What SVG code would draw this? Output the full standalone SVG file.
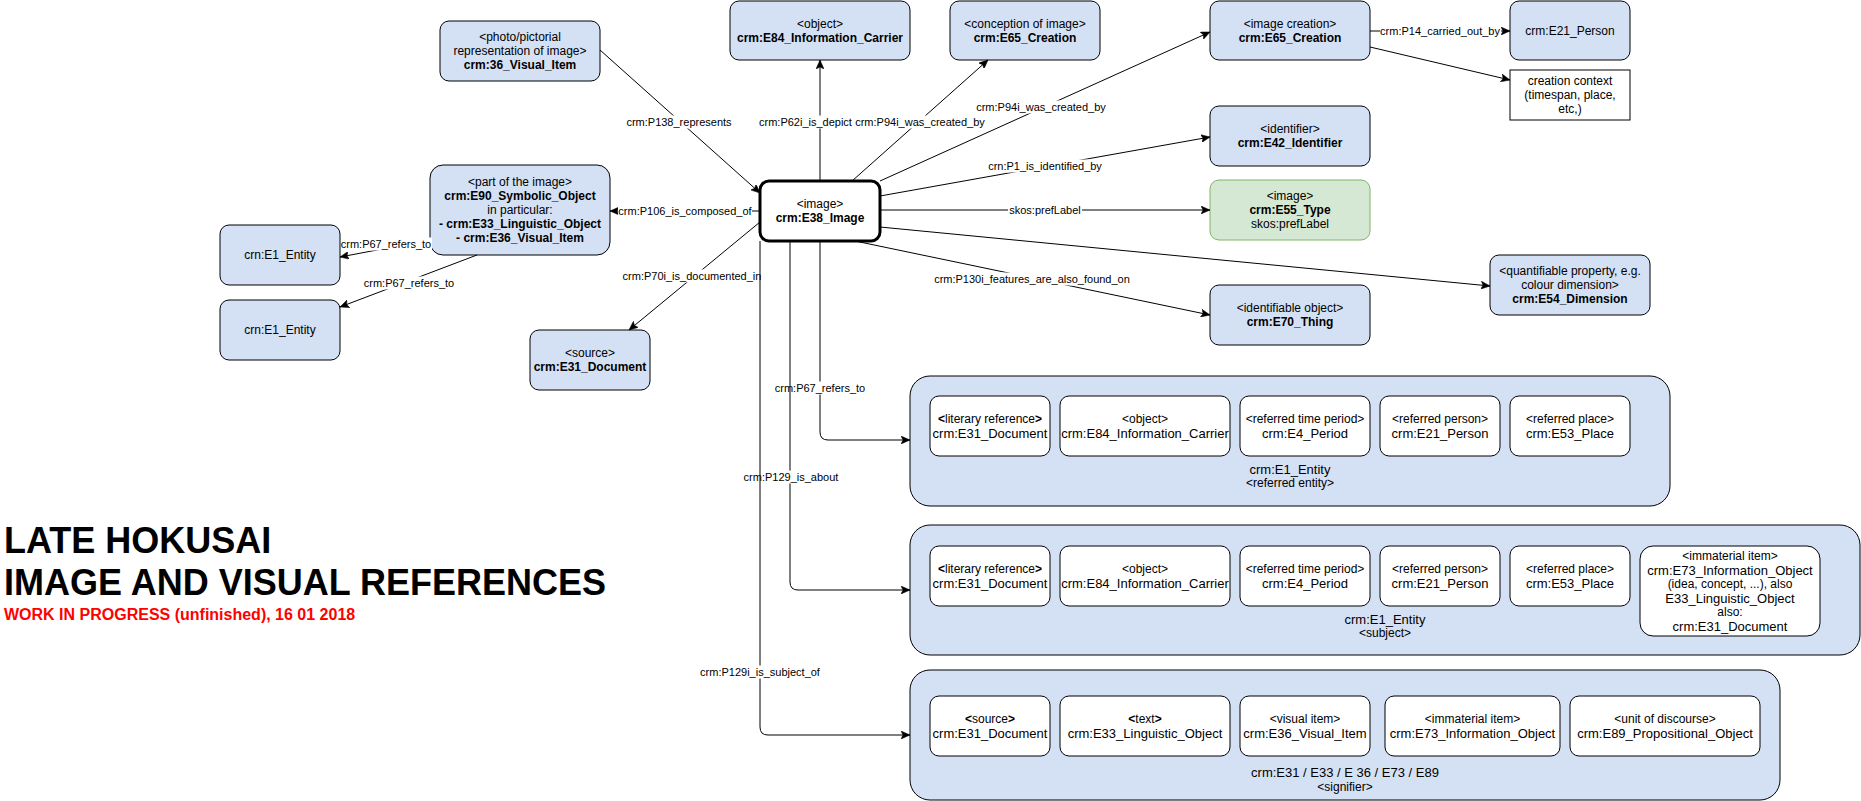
<svg xmlns="http://www.w3.org/2000/svg" width="1861" height="801" viewBox="0 0 1861 801">
<style>
text{font-family:"Liberation Sans",Arial,Helvetica,sans-serif;fill:#000;text-anchor:middle;font-size:12px}
.n{fill:#D4E1F5;stroke:#000;stroke-width:1}
.w{fill:#fff;stroke:#000;stroke-width:1}
.g{fill:#D5E8D4;stroke:#82B366;stroke-width:1}
.b{font-weight:bold}
.m{font-size:13px}
.el{font-size:11px}
.e{fill:none;stroke:#000;stroke-width:1;marker-end:url(#arr)}
.lb{fill:#fff}
.title{text-anchor:start;font-weight:bold;font-size:36px}
</style>
<defs>
<marker id="arr" markerUnits="userSpaceOnUse" markerWidth="10" markerHeight="8" refX="9" refY="4" orient="auto">
<path d="M0,0 L9,4 L0,8 L2,4 Z" fill="#000" stroke="#000" stroke-width="0.5"/>
</marker>
</defs>
<rect width="1861" height="801" fill="#fff"/>

<g id="title">
<text class="title" x="4" y="553">LATE HOKUSAI</text>
<text class="title" x="4" y="595">IMAGE AND VISUAL REFERENCES</text>
<text x="4" y="620" style="text-anchor:start;font-weight:bold;font-size:16px;fill:#FF0000">WORK IN PROGRESS (unfinished), 16 01 2018</text>
</g>

<g id="container-referred-entity">
<rect class="n" x="910" y="376" width="760" height="130" rx="20"/>
<text class="m" x="1290" y="473.5">crm:E1_Entity</text>
<text x="1290" y="487">&lt;referred entity&gt;</text>
<g id="c1-a"><rect class="w" x="930" y="396" width="120" height="60" rx="9"/><text x="990" y="423"><tspan class="b">&lt;</tspan>literary reference<tspan class="b">&gt;</tspan></text><text class="m" x="990" y="437.5">crm:E31_Document</text></g>
<g id="c1-b"><rect class="w" x="1060" y="396" width="170" height="60" rx="9"/><text x="1145" y="423">&lt;object&gt;</text><text class="m" x="1145" y="437.5">crm:E84_Information_Carrier</text></g>
<g id="c1-c"><rect class="w" x="1240" y="396" width="130" height="60" rx="9"/><text x="1305" y="423">&lt;referred time period&gt;</text><text class="m" x="1305" y="437.5">crm:E4_Period</text></g>
<g id="c1-d"><rect class="w" x="1380" y="396" width="120" height="60" rx="9"/><text x="1440" y="423">&lt;referred person&gt;</text><text class="m" x="1440" y="437.5">crm:E21_Person</text></g>
<g id="c1-e"><rect class="w" x="1510" y="396" width="120" height="60" rx="9"/><text x="1570" y="423">&lt;referred place&gt;</text><text class="m" x="1570" y="437.5">crm:E53_Place</text></g>
</g>

<g id="container-subject">
<rect class="n" x="910" y="525" width="950" height="130" rx="20"/>
<text class="m" x="1385" y="623.5">crm:E1_Entity</text>
<text x="1385" y="637">&lt;subject&gt;</text>
<g id="c2-a"><rect class="w" x="930" y="546" width="120" height="60" rx="9"/><text x="990" y="573"><tspan class="b">&lt;</tspan>literary reference<tspan class="b">&gt;</tspan></text><text class="m" x="990" y="587.5">crm:E31_Document</text></g>
<g id="c2-b"><rect class="w" x="1060" y="546" width="170" height="60" rx="9"/><text x="1145" y="573">&lt;object&gt;</text><text class="m" x="1145" y="587.5">crm:E84_Information_Carrier</text></g>
<g id="c2-c"><rect class="w" x="1240" y="546" width="130" height="60" rx="9"/><text x="1305" y="573">&lt;referred time period&gt;</text><text class="m" x="1305" y="587.5">crm:E4_Period</text></g>
<g id="c2-d"><rect class="w" x="1380" y="546" width="120" height="60" rx="9"/><text x="1440" y="573">&lt;referred person&gt;</text><text class="m" x="1440" y="587.5">crm:E21_Person</text></g>
<g id="c2-e"><rect class="w" x="1510" y="546" width="120" height="60" rx="9"/><text x="1570" y="573">&lt;referred place&gt;</text><text class="m" x="1570" y="587.5">crm:E53_Place</text></g>
<g id="c2-f"><rect class="w" x="1640" y="546" width="180" height="90" rx="13"/>
<text x="1730" y="560">&lt;immaterial item&gt;</text>
<text class="m" x="1730" y="574.5">crm:E73_Information_Object</text>
<text x="1730" y="588">(idea, concept, ...), also</text>
<text class="m" x="1730" y="602.5">E33_Linguistic_Object</text>
<text x="1730" y="616">also:</text>
<text class="m" x="1730" y="630.5">crm:E31_Document</text></g>
</g>

<g id="container-signifier">
<rect class="n" x="910" y="670" width="870" height="130" rx="20"/>
<text class="m" x="1345" y="776.5">crm:E31 / E33 / E 36 / E73 / E89</text>
<text x="1345" y="791">&lt;signifier&gt;</text>
<g id="c3-a"><rect class="w" x="930" y="696" width="120" height="60" rx="9"/><text x="990" y="723"><tspan class="b">&lt;</tspan>source<tspan class="b">&gt;</tspan></text><text class="m" x="990" y="737.5">crm:E31_Document</text></g>
<g id="c3-b"><rect class="w" x="1060" y="696" width="170" height="60" rx="9"/><text x="1145" y="723"><tspan class="b">&lt;</tspan>text<tspan class="b">&gt;</tspan></text><text class="m" x="1145" y="737.5">crm:E33_Linguistic_Object</text></g>
<g id="c3-c"><rect class="w" x="1240" y="696" width="130" height="60" rx="9"/><text x="1305" y="723">&lt;visual item&gt;</text><text class="m" x="1305" y="737.5">crm:E36_Visual_Item</text></g>
<g id="c3-d"><rect class="w" x="1385" y="696" width="175" height="60" rx="9"/><text x="1472.5" y="723">&lt;immaterial item&gt;</text><text class="m" x="1472.5" y="737.5">crm:E73_Information_Object</text></g>
<g id="c3-e"><rect class="w" x="1570" y="696" width="190" height="60" rx="9"/><text x="1665" y="723">&lt;unit of discourse&gt;</text><text class="m" x="1665" y="737.5">crm:E89_Propositional_Object</text></g>
</g>

<g id="node-photo"><rect class="n" x="440" y="21" width="160" height="60" rx="9"/>
<text x="520" y="41">&lt;photo/pictorial</text><text x="520" y="55">representation of image&gt;</text><text class="b" x="520" y="69">crm:36_Visual_Item</text></g>
<g id="node-e84"><rect class="n" x="730" y="1" width="180" height="59" rx="9"/>
<text x="820" y="27.5">&lt;object&gt;</text><text class="b" x="820" y="41.5">crm:E84_Information_Carrier</text></g>
<g id="node-conception"><rect class="n" x="950" y="1" width="150" height="59" rx="9"/>
<text x="1025" y="27.5">&lt;conception of image&gt;</text><text class="b" x="1025" y="41.5">crm:E65_Creation</text></g>
<g id="node-creation"><rect class="n" x="1210" y="1" width="160" height="59" rx="9"/>
<text x="1290" y="27.5">&lt;image creation&gt;</text><text class="b" x="1290" y="41.5">crm:E65_Creation</text></g>
<g id="node-e21"><rect class="n" x="1510" y="1" width="120" height="59" rx="9"/>
<text x="1570" y="34.5">crm:E21_Person</text></g>
<g id="node-context"><rect class="w" x="1510" y="70" width="120" height="50"/>
<text x="1570" y="85">creation context</text><text x="1570" y="99">(timespan, place,</text><text x="1570" y="113">etc,)</text></g>
<g id="node-e42"><rect class="n" x="1210" y="106" width="160" height="60" rx="9"/>
<text x="1290" y="133">&lt;identifier&gt;</text><text class="b" x="1290" y="147">crm:E42_Identifier</text></g>
<g id="node-e55"><rect class="g" x="1210" y="180" width="160" height="60" rx="9"/>
<text x="1290" y="200">&lt;image&gt;</text><text class="b" x="1290" y="214">crm:E55_Type</text><text x="1290" y="228">skos:prefLabel</text></g>
<g id="node-e54"><rect class="n" x="1490" y="255" width="160" height="60" rx="9"/>
<text x="1570" y="275">&lt;quantifiable property, e.g.</text><text x="1570" y="289">colour dimension&gt;</text><text class="b" x="1570" y="303">crm:E54_Dimension</text></g>
<g id="node-e70"><rect class="n" x="1210" y="285" width="160" height="60" rx="9"/>
<text x="1290" y="312">&lt;identifiable object&gt;</text><text class="b" x="1290" y="326">crm:E70_Thing</text></g>
<g id="node-e90"><rect class="n" x="430" y="165" width="180" height="90" rx="13"/>
<text x="520" y="186">&lt;part of the image&gt;</text><text class="b" x="520" y="200">crm:E90_Symbolic_Object</text><text x="520" y="214">in particular:</text><text class="b" x="520" y="228">- crm:E33_Linguistic_Object</text><text class="b" x="520" y="242">- crm:E36_Visual_Item</text></g>
<g id="node-e1a"><rect class="n" x="220" y="225" width="120" height="60" rx="9"/><text x="280" y="259">crn:E1_Entity</text></g>
<g id="node-e1b"><rect class="n" x="220" y="300" width="120" height="60" rx="9"/><text x="280" y="334">crn:E1_Entity</text></g>
<g id="node-source"><rect class="n" x="530" y="330" width="120" height="60" rx="9"/>
<text x="590" y="357">&lt;source&gt;</text><text class="b" x="590" y="371">crm:E31_Document</text></g>

<g id="connectors">
<g><path class="e" d="M600,50 L760,193"/><rect class="lb" x="626" y="115.5" width="107" height="13"/><text class="el" x="679" y="126">crm:P138_represents</text></g>
<g><path class="e" d="M820,181 L820,60"/><rect class="lb" x="758" y="115.5" width="96" height="13"/><text class="el" x="759" y="126" style="text-anchor:start">crm:P62i_is_depict</text></g>
<g><path class="e" d="M852,181 L988,60"/><rect class="lb" x="854" y="115.5" width="131" height="13"/><text class="el" x="920" y="126">crm:P94i_was_created_by</text></g>
<g><path class="e" d="M880,181 L1210,32"/><rect class="lb" x="975" y="100.5" width="132" height="13"/><text class="el" x="1041" y="111">crm:P94i_was_created_by</text></g>
<g><path class="e" d="M1370,31 L1510,31"/><rect class="lb" x="1380" y="24.5" width="121" height="13"/><text class="el" x="1440" y="35">crm:P14_carried_out_by</text></g>
<g><path class="e" d="M1370,47 L1510,80"/></g>
<g><path class="e" d="M880,196 L1210,137"/><rect class="lb" x="987" y="159.5" width="116" height="13"/><text class="el" x="1045" y="170">crn:P1_is_identified_by</text></g>
<g><path class="e" d="M880,210 L1210,210"/><rect class="lb" x="1008" y="203.5" width="74" height="13"/><text class="el" x="1045" y="214">skos:prefLabel</text></g>
<g><path class="e" d="M880,227 L1490,286"/></g>
<g><path class="e" d="M855,241 L1210,315"/><rect class="lb" x="933" y="272.5" width="198" height="13"/><text class="el" x="1032" y="283">crm:P130i_features_are_also_found_on</text></g>
<g><path class="e" d="M760,211 L610,211"/><rect class="lb" x="618" y="204.5" width="134" height="13"/><text class="el" x="685" y="215">crm:P106_is_composed_of</text></g>
<g><path class="e" d="M430,240 L340,257"/><rect class="lb" x="341" y="237.5" width="91" height="13"/><text class="el" x="386" y="248">crm:P67_refers_to</text></g>
<g><path class="e" d="M477,255 L340,307"/><rect class="lb" x="363" y="276.5" width="92" height="13"/><text class="el" x="409" y="287">crm:P67_refers_to</text></g>
<g><path class="e" d="M760,222 L629,330"/><rect class="lb" x="622" y="269.5" width="140" height="13"/><text class="el" x="692" y="280">crm:P70i_is_documented_in</text></g>
<g><path class="e" d="M820,241 V432 Q820,440 828,440 H910"/><rect class="lb" x="774" y="381.5" width="92" height="13"/><text class="el" x="820" y="392">crm:P67_refers_to</text></g>
<g><path class="e" d="M790,241 V582 Q790,590 798,590 H910"/><rect class="lb" x="743" y="470.5" width="96" height="13"/><text class="el" x="791" y="481">crm:P129_is_about</text></g>
<g><path class="e" d="M760,241 V727 Q760,735 768,735 H910"/><rect class="lb" x="699" y="665.5" width="122" height="13"/><text class="el" x="760" y="676">crm:P129i_is_subject_of</text></g>
</g>

<g id="node-e38"><rect x="760" y="181" width="120" height="60" rx="9" fill="#fff" stroke="#000" stroke-width="3"/>
<text x="820" y="208">&lt;image&gt;</text><text class="b" x="820" y="222">crm:E38_Image</text></g>
</svg>
